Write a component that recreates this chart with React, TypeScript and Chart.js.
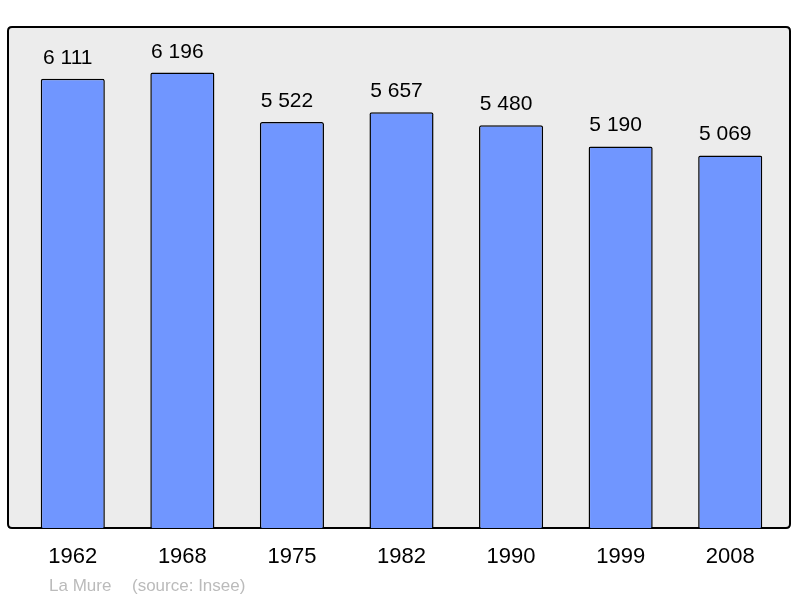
import React, { useEffect, useRef } from "react";
import { Chart, registerables } from "chart.js";

Chart.register(...registerables);

const years = ["1962", "1968", "1975", "1982", "1990", "1999", "2008"];
const population = [6111, 6196, 5522, 5657, 5480, 5190, 5069];
const valueLabels = ["6 111", "6 196", "5 522", "5 657", "5 480", "5 190", "5 069"];
const townName = "La Mure";
const sourceText = "(source: Insee)";

const FONT = "'Liberation Sans', Arial, sans-serif";

function roundRect(ctx: CanvasRenderingContext2D, x: number, y: number, w: number, h: number, r: number) {
  ctx.beginPath();
  ctx.moveTo(x + r, y);
  ctx.lineTo(x + w - r, y);
  ctx.quadraticCurveTo(x + w, y, x + w, y + r);
  ctx.lineTo(x + w, y + h - r);
  ctx.quadraticCurveTo(x + w, y + h, x + w - r, y + h);
  ctx.lineTo(x + r, y + h);
  ctx.quadraticCurveTo(x, y + h, x, y + h - r);
  ctx.lineTo(x, y + r);
  ctx.quadraticCurveTo(x, y, x + r, y);
  ctx.closePath();
}

const decorPlugin = {
  id: "decor",
  beforeDatasetsDraw(chart: any) {
    const { ctx, chartArea } = chart;
    const left = chartArea.left - 10;
    const right = chartArea.right + 5;
    ctx.save();
    roundRect(ctx, left, chartArea.top, right - left, chartArea.bottom - chartArea.top, 4);
    ctx.fillStyle = "#ececec";
    ctx.fill();
    ctx.lineWidth = 2;
    ctx.strokeStyle = "#000";
    ctx.stroke();
    ctx.restore();
  },
  afterDatasetsDraw(chart: any) {
    const { ctx, chartArea } = chart;
    const xs = chart.scales.x;
    const ys = chart.scales.y;
    ctx.save();
    ctx.fillStyle = "#000";
    ctx.textAlign = "center";
    ctx.textBaseline = "alphabetic";
    ctx.font = `21px ${FONT}`;
    population.forEach((v, i) => {
      ctx.fillText(valueLabels[i], xs.getPixelForValue(i) - 5, ys.getPixelForValue(v) - 15);
    });
    ctx.font = `22px ${FONT}`;
    ctx.textBaseline = "middle";
    years.forEach((y, i) => {
      ctx.fillText(y, xs.getPixelForValue(i), chartArea.bottom + 29);
    });
    ctx.font = `17px ${FONT}`;
    ctx.fillStyle = "#bbbbbb";
    ctx.textAlign = "left";
    ctx.textBaseline = "alphabetic";
    ctx.fillText(townName, 49, 591);
    ctx.fillText(sourceText, 132, 591);
    ctx.restore();
  },
};

export default function App() {
  const ref = useRef<HTMLCanvasElement | null>(null);
  useEffect(() => {
    if (!ref.current) return;
    const chart = new Chart(ref.current, {
      type: "bar",
      data: {
        labels: years,
        datasets: [
          {
            data: population,
            backgroundColor: "rgb(112,150,255)",
            borderColor: "#000",
            borderWidth: 1.5,
            borderRadius: 2,
            borderSkipped: "bottom",
            barPercentage: 0.585,
            categoryPercentage: 1,
          },
        ],
      },
      options: {
        animation: false,
        responsive: false,
        devicePixelRatio: 1,
        layout: { padding: { left: 18, right: 15, top: 27, bottom: 70 } },
        plugins: { legend: { display: false }, tooltip: { enabled: false }, title: { display: false } },
        scales: {
          x: { display: false, offset: true },
          y: { display: false, min: 0, max: 6815.6 },
        },
      },
      plugins: [decorPlugin],
    });
    return () => chart.destroy();
  }, []);
  return (
    <div style={{ position: "absolute", left: 0, top: 0, width: 800, height: 598, background: "#fff" }}>
      <canvas ref={ref} width={800} height={598} style={{ width: 800, height: 598 }} />
    </div>
  );
}
